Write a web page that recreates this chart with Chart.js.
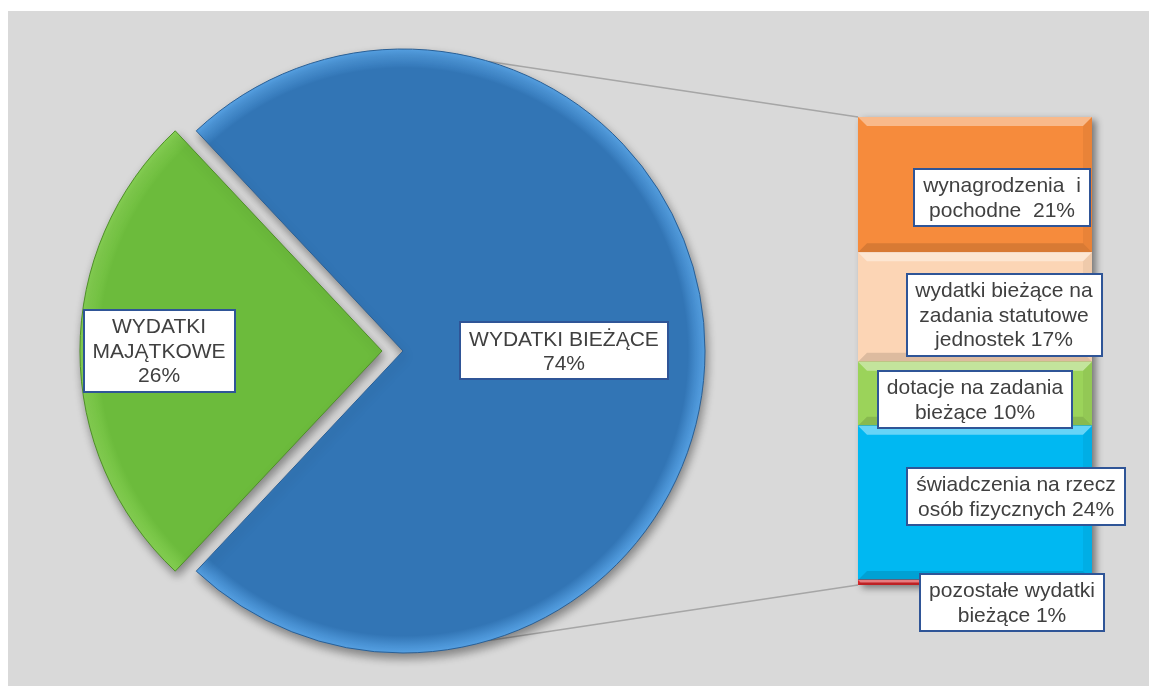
<!DOCTYPE html>
<html lang="pl">
<head>
<meta charset="utf-8">
<title>Struktura wydatków</title>
<script src="https://cdn.jsdelivr.net/npm/chart.js@4.4.1/dist/chart.umd.min.js"></script>
<style>
    html, body { margin: 0; padding: 0; background: #ffffff; }
    #frame { position: relative; width: 1149px; height: 686px; overflow: hidden; background: #ffffff; }
    #panel { position: absolute; left: 8px; top: 11px; right: 0; bottom: 0; background: #d9d9d9; }
    #pieBox { position: absolute; left: 0; top: 0; width: 1149px; height: 686px; }
    #barBox { position: absolute; left: 840px; top: 100px; width: 300px; height: 560px; }
</style>
</head>
<body>
<div id="frame">
    <div id="panel"></div>
    <div id="pieBox"><canvas id="pieChart"></canvas></div>
    <div id="barBox"><canvas id="barChart"></canvas></div>
</div>
<script>
"use strict";

// pie: green slice first, then the blue one that is split into the bar
var pieCategories = [["WYDATKI", "MAJĄTKOWE"], ["WYDATKI BIEŻĄCE"]];
var pieValues = [26, 74];

// bar segments, read from top to bottom
var barCategories = [
    ["wynagrodzenia  i", "pochodne "],
    ["wydatki bieżące na", "zadania statutowe", "jednostek"],
    ["dotacje na zadania", "bieżące"],
    ["świadczenia na rzecz", "osób fizycznych"],
    ["pozostałe wydatki", "bieżące"]
];
var barValues = [21.4, 17.3, 10.1, 24.4, 0.8];

var pieColors = ["#6cbb3c", "#3275b5"];
var pieLight = ["#86d153", "#57a3e6"];
var pieEdges = ["#4e8f28", "#295f95"];
var pieOffsets = [84, 0];
var pieLabelDist = [0.738, 0.533];

var barColors = ["#f68b3c", "#fcd5b5", "#9bd35a", "#00b8f2", "#d8262a"];
var barLabelShift = [[27, 13], [29, 8], [0, 6], [41, -6], [37, 20]];

var labelFont = '21px "Liberation Sans", Arial, sans-serif';
var lineStep = 24.5;

function sum(arr) {
    var s = 0;
    for (var i = 0; i < arr.length; i++) s += arr[i];
    return s;
}

function drawBox(ctx, cx, cy, lines) {
    ctx.save();
    ctx.font = labelFont;
    var w = 0;
    for (var i = 0; i < lines.length; i++) w = Math.max(w, ctx.measureText(lines[i]).width);
    w = Math.round(w + 18);
    var h = Math.round(lines.length * lineStep + 8);
    var left = Math.round(cx - w / 2), top = Math.round(cy - h / 2);
    ctx.fillStyle = "#ffffff";
    ctx.fillRect(left, top, w, h);
    ctx.strokeStyle = "#2f5597";
    ctx.lineWidth = 2;
    ctx.strokeRect(left, top, w, h);
    ctx.fillStyle = "#404040";
    ctx.textAlign = "center";
    ctx.textBaseline = "middle";
    for (var j = 0; j < lines.length; j++) {
        ctx.fillText(lines[j], cx, cy + (j - (lines.length - 1) / 2) * lineStep + 1);
    }
    ctx.restore();
}

/* Bar: shadow behind the stack, bevel on each segment, boxed labels */
var barDecor = {
    id: "barDecor",
    beforeDatasetsDraw: function (chart) {
        var n = chart.data.datasets.length;
        var topEl = chart.getDatasetMeta(n - 1).data[0];
        var botEl = chart.getDatasetMeta(0).data[0];
        var ctx = chart.ctx;
        ctx.save();
        ctx.shadowColor = "rgba(0,0,0,0.45)";
        ctx.shadowBlur = 7;
        ctx.shadowOffsetX = 4;
        ctx.shadowOffsetY = 3;
        ctx.fillStyle = "#999999";
        ctx.fillRect(topEl.x - topEl.width / 2, topEl.y, topEl.width, botEl.base - topEl.y);
        ctx.restore();
    },
    afterDatasetsDraw: function (chart) {
        var ctx = chart.ctx;
        var n = chart.data.datasets.length;
        // bevels
        for (var d = 0; d < n; d++) {
            var el = chart.getDatasetMeta(d).data[0];
            var l = el.x - el.width / 2, r = el.x + el.width / 2;
            var t = el.y, b = el.base;
            var bv = Math.min(9, (b - t) / 2);
            ctx.save();
            ctx.fillStyle = "rgba(255,255,255,0.4)";
            ctx.beginPath();
            ctx.moveTo(l, t); ctx.lineTo(r, t); ctx.lineTo(r - bv, t + bv); ctx.lineTo(l + bv, t + bv);
            ctx.closePath(); ctx.fill();
            ctx.fillStyle = "rgba(0,0,0,0.12)";
            ctx.beginPath();
            ctx.moveTo(l, b); ctx.lineTo(r, b); ctx.lineTo(r - bv, b - bv); ctx.lineTo(l + bv, b - bv);
            ctx.closePath(); ctx.fill();
            ctx.fillStyle = "rgba(0,0,0,0.05)";
            ctx.beginPath();
            ctx.moveTo(r, t); ctx.lineTo(r, b); ctx.lineTo(r - bv, b - bv); ctx.lineTo(r - bv, t + bv);
            ctx.closePath(); ctx.fill();
            ctx.restore();
        }
        // labels (dataset d is segment n-1-d from the top)
        for (var k = 0; k < n; k++) {
            var seg = n - 1 - k;
            var e = chart.getDatasetMeta(k).data[0];
            var lines = barCategories[seg].slice();
            lines[lines.length - 1] += " " + Math.round(barValues[seg]) + "%";
            drawBox(ctx, e.x + barLabelShift[seg][0], (e.y + e.base) / 2 + barLabelShift[seg][1], lines);
        }
    }
};

var barDatasets = [];
for (var i = barValues.length - 1; i >= 0; i--) {
    barDatasets.push({
        label: barCategories[i].join(" "),
        data: [barValues[i]],
        backgroundColor: barColors[i],
        borderWidth: 0,
        barPercentage: 1,
        categoryPercentage: 1
    });
}

var barChart = new Chart(document.getElementById("barChart"), {
    type: "bar",
    data: { labels: ["WYDATKI BIEŻĄCE"], datasets: barDatasets },
    options: {
        responsive: true,
        maintainAspectRatio: false,
        animation: false,
        events: [],
        layout: { padding: { left: 18, top: 17, right: 48, bottom: 75 } },
        plugins: { legend: { display: false }, tooltip: { enabled: false } },
        scales: {
            x: { stacked: true, display: false },
            y: { stacked: true, display: false, min: 0, max: sum(barValues) }
        }
    },
    plugins: [barDecor]
});

function barCorners(pieCanvas) {
    var n = barChart.data.datasets.length;
    var topEl = barChart.getDatasetMeta(n - 1).data[0];
    var botEl = barChart.getDatasetMeta(0).data[0];
    var a = barChart.canvas.getBoundingClientRect();
    var b = pieCanvas.getBoundingClientRect();
    var dx = a.left - b.left, dy = a.top - b.top;
    var left = topEl.x - topEl.width / 2 + dx;
    return { top: [left, topEl.y + dy], bottom: [left, botEl.base + dy] };
}

// light comes from the upper left: a thin bright rim there, darker toward lower right
function pieFill(ctx) {
    var chart = ctx.chart, area = chart.chartArea;
    var i = ctx.dataIndex;
    if (!area) return pieColors[i];
    var cx = (area.left + area.right) / 2, cy = (area.top + area.bottom) / 2;
    var g = chart.ctx.createRadialGradient(cx + 14, cy + 14, 0, cx, cy, 302);
    g.addColorStop(0, pieColors[i]);
    g.addColorStop(0.94, pieColors[i]);
    g.addColorStop(1, pieLight[i]);
    return g;
}

/* Pie: series lines, drop shadow, boxed labels */
var connectorAngle = 16.5;
var pieDecor = {
    id: "pieDecor",
    beforeDatasetsDraw: function (chart) {
        var arc = chart.getDatasetMeta(0).data[1];
        var c = barCorners(chart.canvas);
        var a = connectorAngle * Math.PI / 180;
        var ctx = chart.ctx;
        ctx.save();
        ctx.strokeStyle = "#a6a6a6";
        ctx.lineWidth = 1.5;
        ctx.beginPath();
        ctx.moveTo(arc.x + arc.outerRadius * Math.sin(a), arc.y - arc.outerRadius * Math.cos(a));
        ctx.lineTo(c.top[0], c.top[1]);
        ctx.moveTo(arc.x + arc.outerRadius * Math.sin(a), arc.y + arc.outerRadius * Math.cos(a));
        ctx.lineTo(c.bottom[0], c.bottom[1]);
        ctx.stroke();
        ctx.restore();
    },
    beforeDatasetDraw: function (chart) {
        var ctx = chart.ctx;
        ctx.save();
        ctx.shadowColor = "rgba(0,0,0,0.4)";
        ctx.shadowBlur = 10;
        ctx.shadowOffsetX = 2;
        ctx.shadowOffsetY = 5;
    },
    afterDatasetDraw: function (chart) {
        chart.ctx.restore();
    },
    afterDatasetsDraw: function (chart) {
        var arcs = chart.getDatasetMeta(0).data;
        for (var i = 0; i < arcs.length; i++) {
            var a = arcs[i];
            var mid = (a.startAngle + a.endAngle) / 2;
            var shift = pieOffsets[i] / 4 * (2 - Math.sin(Math.min(Math.PI, a.circumference)));
            var d = shift + pieLabelDist[i] * a.outerRadius;
            var lines = pieCategories[i].concat([pieValues[i] + "%"]);
            drawBox(chart.ctx, a.x + Math.cos(mid) * d, a.y + Math.sin(mid) * d, lines);
        }
    }
};

var pieChart = new Chart(document.getElementById("pieChart"), {
    type: "pie",
    data: {
        labels: pieCategories.map(function (l) { return l.join(" "); }),
        datasets: [{
            data: pieValues,
            backgroundColor: pieFill,
            borderColor: pieEdges,
            borderWidth: 1,
            offset: pieOffsets
        }]
    },
    options: {
        responsive: true,
        maintainAspectRatio: false,
        animation: false,
        events: [],
        radius: 302,
        rotation: 270 - pieValues[0] / sum(pieValues) * 180,
        layout: { padding: { left: 0, right: 343, top: 16, bottom: 0 } },
        plugins: { legend: { display: false }, tooltip: { enabled: false } }
    },
    plugins: [pieDecor]
});
</script>
</body>
</html>
